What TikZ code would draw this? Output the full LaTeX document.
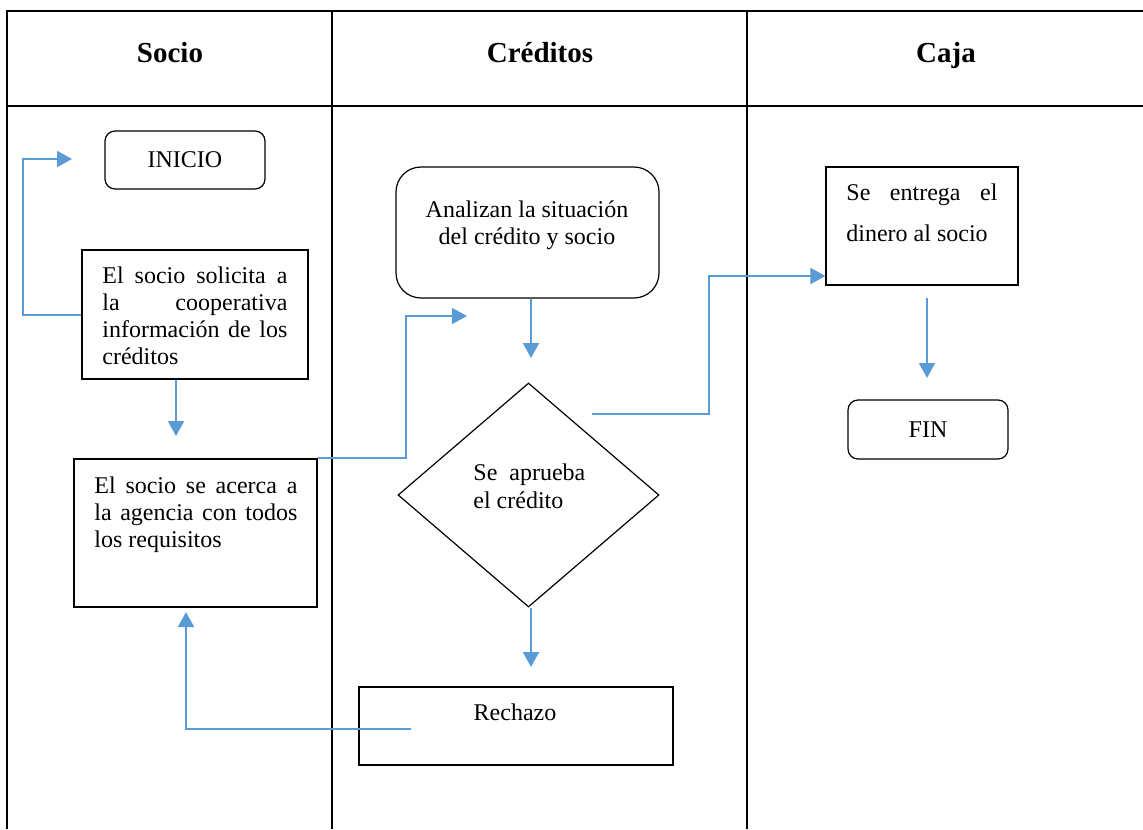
\documentclass[tikz,border=0pt]{standalone}
\usepackage{fontspec}
\setmainfont{Liberation Serif}
\usetikzlibrary{arrows.meta,shapes.geometric}
\definecolor{conblue}{HTML}{5B9BD5}
\tikzset{
  tbl/.style={line width=1pt,black},
  boxr/.style={draw=black,line width=0.6pt,rectangle,inner sep=0pt},
  roundbox/.style={boxr,rounded corners=5pt},
  decide/.style={draw=black,line width=0.6pt,diamond,inner sep=0pt},
  conn/.style={draw=conblue,line width=1pt,-{Triangle[length=7.5pt,width=8pt]}},
  txt/.style={inner sep=0pt,anchor=base west,font=\fontsize{12}{13.5}\selectfont},
  head/.style={inner sep=0pt,anchor=base,font=\fontsize{14.5}{16}\selectfont\bfseries}
}
\begin{document}
\begin{tikzpicture}[x=0.5pt,y=-0.5pt]
\useasboundingbox (0,0) rectangle (1143,829);
% table frame
\draw[tbl] (7,829) -- (7,11) -- (1143,11);
\draw[tbl] (7,106) -- (1143,106);
\draw[tbl] (332,11) -- (332,829);
\draw[tbl] (747,11) -- (747,829);
% headers
\node[head] (hsocio) at (170,62) {Socio};
\node[head] (hcred) at (540,62) {Créditos};
\node[head] (hcaja) at (946,62) {Caja};
% boxes
\node[roundbox,minimum width=80pt,minimum height=29pt,font=\fontsize{12}{13.5}\selectfont] (inicio) at (185,160) {INICIO};
\node[boxr,minimum width=113pt,minimum height=64.5pt] (b1) at (195,314.5) {};
\node[boxr,minimum width=121.5pt,minimum height=74pt] (b2) at (195.5,533) {};
\node[boxr,rounded corners=12.5pt,minimum width=131.5pt,minimum height=65.5pt] (ana) at (527.5,232.5) {};
\node[decide,minimum width=130.5pt,minimum height=112pt] (dia) at (528.5,495) {};
\node[boxr,minimum width=157pt,minimum height=39pt] (rech) at (516,726) {};
\node[boxr,minimum width=96pt,minimum height=59pt] (ent) at (922,226) {};
\node[roundbox,minimum width=80pt,minimum height=29.5pt,font=\fontsize{12}{13.5}\selectfont] (fin) at (928,429.5) {FIN};
% texts
\node[txt] (tb1) at (102,283) {\parbox[t]{92.5pt}{\fontsize{12}{13.5}\selectfont
  \makebox[\linewidth][s]{El socio solicita a}\\
  \makebox[\linewidth][s]{la cooperativa}\\
  \makebox[\linewidth][s]{información de los}\\
  créditos}};
\node[txt] (tb2) at (94,493) {\parbox[t]{101.5pt}{\fontsize{12}{13.5}\selectfont
  \makebox[\linewidth][s]{El socio se acerca a}\\
  \makebox[\linewidth][s]{la agencia con todos}\\
  los requisitos}};
\node[txt,anchor=base] (tana) at (527,217) {\parbox[t]{130pt}{\centering\fontsize{12}{13.5}\selectfont
  Analizan la situación\\del crédito y socio}};
\node[txt] (tdia) at (473,480) {\parbox[t]{70pt}{\fontsize{12}{14}\selectfont
  Se\ \ aprueba\\el crédito}};
\node[txt,anchor=base] (trech) at (515,720) {Rechazo};
\node[txt] (tent) at (846,200) {\parbox[t]{75.5pt}{\fontsize{12}{20.5}\selectfont
  \makebox[\linewidth][s]{Se entrega el}\\
  dinero al socio}};
% connector points
\coordinate (k1) at (23,159);
\coordinate (t1) at (72,159);
\coordinate (t2) at (176,436);
\coordinate (k3) at (406,316);
\coordinate (t3) at (467,316);
\coordinate (t4) at (531,358);
\coordinate (s5) at (592,414);
\coordinate (k5) at (709,276);
\coordinate (s6) at (927,298);
\coordinate (t6) at (927,378);
\coordinate (t7) at (531,667);
\coordinate (s8) at (411,729);
\coordinate (k8) at (186,729);
\coordinate (t8) at (186,612);
% connectors
\draw[conn] (b1.west) -| (k1) -- (t1);
\draw[conn] (b1.south -| t2) -- (t2);
\draw[conn] (b2.north east) -| (k3) -- (t3);
\draw[conn] (ana.south -| t4) -- (t4);
\draw[conn] (s5) -| (k5) -- (ent.west |- k5);
\draw[conn] (s6) -- (t6);
\draw[conn] (dia.south -| t7) -- (t7);
\draw[conn] (s8) -- (k8) -- (t8);
\end{tikzpicture}
\end{document}
